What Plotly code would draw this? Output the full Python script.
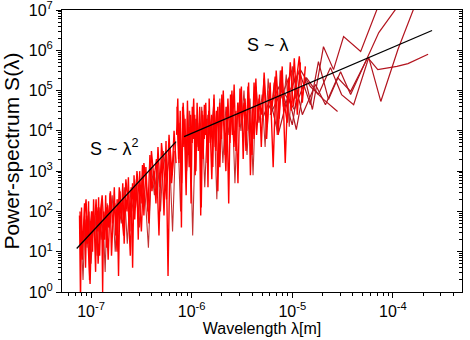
import plotly.graph_objects as go

# ---- data (log10 values) ----
# scan 1 (short wavelengths), bright red
s1_logx = [-7.115, -7.105, -7.095, -7.085, -7.075, -7.065, -7.055, -7.045, -7.035, -7.025,
           -7.015, -7.005, -6.995, -6.985, -6.975, -6.965, -6.955, -6.945, -6.935, -6.925,
           -6.915, -6.905, -6.895, -6.885, -6.875, -6.865, -6.855, -6.845, -6.835, -6.825,
           -6.811, -6.797, -6.783, -6.769, -6.755, -6.741, -6.727, -6.713, -6.699, -6.685,
           -6.671, -6.657, -6.643, -6.629, -6.615, -6.601, -6.587, -6.573, -6.559, -6.545,
           -6.531, -6.517, -6.503, -6.489, -6.475,
           -6.455, -6.435, -6.415, -6.395, -6.375, -6.355, -6.335, -6.315, -6.295, -6.275,
           -6.255, -6.235, -6.215, -6.195, -6.175, -6.155]
s1_logy = [1.9, -0.2, 2.1, 0.8, 1.6, 2.2, 0.6, 1.9, 1.2, 2.25,
           0.3, 1.7, 2.0, 1.0, 2.3, 1.4, 0.5, 2.1, 1.5, 2.35,
           0.9, 1.8, 2.2, 0.0, 2.0, 1.3, 2.4, 1.1, 2.15, 1.6,
           2.45, 0.9, 2.0, 2.6, 1.4, 2.3, 0.4, 2.5, 1.8, 2.7,
           1.2, 2.4, 2.0, 2.85, 1.5, 2.6, 0.6, 2.9, 2.1, 2.7,
           1.3, 3.0, 2.2, 3.15, 1.9,
           3.1, 2.0, 3.4, 2.5, 3.0, 2.2, 3.6, 2.6, 3.3, 1.9,
           3.75, 0.4, 3.6, 2.9, 4.0, 3.2]

# scan 1, second bright record
s5_logx = [-7.110, -7.090, -7.070, -7.050, -7.030, -7.010, -6.990, -6.970, -6.950, -6.930,
           -6.910, -6.890, -6.870, -6.850, -6.830, -6.808, -6.786, -6.764, -6.742, -6.720,
           -6.698, -6.676, -6.654, -6.632, -6.610, -6.588, -6.566, -6.544, -6.522, -6.500,
           -6.475, -6.450, -6.425, -6.400, -6.375, -6.350, -6.325, -6.300, -6.275, -6.250,
           -6.225, -6.200, -6.175]
s5_logy = [2.0, 0.9, 1.7, 2.3, 1.2, 0.2, 2.0, 1.5, 2.3, 0.7,
           1.9, 2.4, 1.5, 2.1, 0.8, 2.5, 1.7, 2.2, 1.0, 2.6,
           2.0, 1.4, 2.8, 2.2, 0.9, 2.7, 1.8, 3.0, 2.4, 1.5,
           3.2, 2.6, 1.7, 3.5, 2.8, 3.3, 1.4, 3.7, 3.0, 2.3,
           3.9, 2.7, 3.5]

# scan 1, darker companion
s2_logx = [-7.10, -7.08, -7.06, -7.04, -7.02, -7.00, -6.98, -6.96, -6.94, -6.92,
           -6.90, -6.88, -6.86, -6.84, -6.82, -6.79, -6.76, -6.73, -6.70, -6.67,
           -6.64, -6.61, -6.58, -6.55, -6.52, -6.49, -6.46, -6.43, -6.40, -6.37,
           -6.34, -6.31, -6.28, -6.25, -6.22, -6.19, -6.16]
s2_logy = [1.5, 0.3, 1.8, 1.1, 2.0, 0.7, 1.6, 1.9, 0.9, 2.1,
           1.3, 1.8, 0.5, 2.2, 1.6, 2.4, 1.0, 2.3, 1.7, 2.6,
           1.2, 2.5, 2.0, 2.8, 1.6, 2.9, 2.3, 1.1, 3.1, 2.4,
           3.3, 2.0, 3.5, 2.8, 3.4, 1.5, 3.7]

# scan 2 (longer wavelengths), bright red
s3_logx = [-6.150, -6.138, -6.126, -6.114, -6.102, -6.090, -6.078, -6.066, -6.054, -6.042,
           -6.030, -6.018, -6.006, -5.994, -5.982, -5.970, -5.958, -5.946, -5.934, -5.922,
           -5.910, -5.898, -5.886, -5.874, -5.862, -5.850, -5.838, -5.826, -5.814, -5.802,
           -5.790, -5.778, -5.766, -5.754,
           -5.740, -5.722, -5.704, -5.686, -5.668, -5.650, -5.632, -5.614, -5.596, -5.578,
           -5.560, -5.542, -5.524, -5.506, -5.488, -5.470, -5.452, -5.434, -5.416, -5.398,
           -5.380, -5.362, -5.344, -5.326, -5.308,
           -5.280, -5.250, -5.220, -5.190, -5.160, -5.130, -5.100, -5.070, -5.040, -5.010,
           -4.980, -4.950, -4.920]
s3_logy = [3.9, 4.8, 3.2, 4.5, 1.6, 4.6, 3.6, 4.3, 2.8, 4.75,
           3.4, 4.1, 2.2, 4.6, 3.8, 4.4, 3.0, 4.7, 3.5, 4.2,
           1.9, 4.5, 3.3, 4.65, 3.9, 4.3, 2.6, 4.8, 3.7, 4.4,
           3.1, 4.9, 3.6, 4.5,
           2.5, 4.7, 3.8, 5.0, 3.4, 4.6, 2.2, 4.9, 3.9, 5.15,
           3.5, 4.7, 4.1, 5.1, 3.3, 4.8, 4.0, 5.2, 2.9, 4.6,
           3.8, 5.3, 4.2, 4.9, 3.6,
           5.45, 4.1, 5.2, 3.1, 5.5, 4.3, 5.6, 3.2, 5.3, 4.5,
           5.8, 4.4, 5.7]

# scan 2, second bright record
s6_logx = [-6.145, -6.130, -6.115, -6.100, -6.085, -6.070, -6.055, -6.040, -6.025, -6.010,
           -5.995, -5.980, -5.965, -5.950, -5.935, -5.920, -5.905, -5.890, -5.875, -5.860,
           -5.845, -5.830, -5.815, -5.800, -5.780, -5.760, -5.740, -5.720, -5.700, -5.680,
           -5.660, -5.640, -5.620, -5.600, -5.580, -5.560, -5.540, -5.520, -5.500, -5.480,
           -5.460, -5.440, -5.420, -5.400, -5.380, -5.355, -5.330, -5.305, -5.280, -5.255,
           -5.230, -5.200, -5.170, -5.140, -5.110, -5.080, -5.050, -5.020, -4.990, -4.960,
           -4.930, -4.900, -4.870]
s6_logy = [4.6, 3.3, 4.2, 2.7, 4.7, 3.9, 2.4, 4.5, 3.1, 4.4,
           3.7, 4.8, 2.9, 4.3, 3.6, 4.6, 2.1, 4.4, 3.8, 4.7,
           3.2, 4.5, 4.0, 2.8, 4.8, 3.5, 4.6, 3.1, 4.9, 4.1,
           3.0, 4.8, 3.7, 5.0, 3.6, 4.5, 2.7, 5.05, 4.2, 4.7,
           3.5, 5.1, 4.3, 3.4, 5.2, 3.9, 4.8, 4.4, 5.3, 3.8,
           5.0, 4.6, 5.35, 3.9, 5.5, 4.7, 4.2, 5.7, 4.6, 5.2,
           5.85, 4.7, 5.6]

# scan 2, darker companion
s4_logx = [-6.14, -6.11, -6.08, -6.05, -6.02, -5.99, -5.96, -5.93, -5.90, -5.87,
           -5.84, -5.81, -5.78, -5.75, -5.72, -5.69, -5.66, -5.63, -5.60, -5.57,
           -5.54, -5.51, -5.48, -5.45, -5.42, -5.39, -5.36, -5.33, -5.30, -5.27,
           -5.24, -5.21, -5.18, -5.15, -5.12, -5.09, -5.06, -5.03, -5.00, -4.97, -4.94]
s4_logy = [4.2, 2.0, 4.4, 3.0, 4.5, 1.4, 4.3, 3.5, 4.6, 2.6,
           4.4, 3.8, 4.7, 2.3, 4.8, 3.2, 4.6, 3.9, 4.9, 2.7,
           4.7, 4.0, 5.0, 3.4, 4.8, 2.9, 5.1, 4.2, 4.9, 3.6,
           5.3, 4.4, 5.2, 3.9, 5.5, 4.6, 5.4, 4.1, 5.6, 4.8, 5.5]

# long scans (sparse, dark red)
d1_logx = [-5.30, -5.22, -5.14, -5.04, -4.96, -4.87, -4.80, -4.69, -4.59, -4.49, -4.32, -4.10]
d1_logy = [4.28, 4.78, 3.91, 4.90, 4.03, 5.27, 4.53, 6.09, 5.52, 6.34, 5.97, 7.39]
d2_logx = [-5.24, -5.12, -5.00, -4.92, -4.82, -4.74, -4.64, -4.52, -4.42, -4.25, -4.14, -3.83]
d2_logy = [4.53, 5.15, 4.15, 5.40, 4.65, 5.72, 4.78, 5.47, 4.90, 5.82, 6.44, 7.51]
d3_logx = [-5.22, -5.10, -4.98, -4.86, -4.74, -4.62, -4.51, -4.39, -4.24, -4.12, -3.95, -3.68]
d3_logy = [4.40, 5.02, 4.53, 5.32, 4.90, 5.57, 4.90, 4.65, 5.82, 4.73, 6.02, 7.76]
d4_logx = [-5.12, -5.00, -4.90, -4.77, -4.67, -4.55, -4.42, -4.25, -4.15, -3.96, -3.85, -3.65]
d4_logy = [4.78, 5.52, 4.40, 5.15, 4.65, 5.32, 4.98, 5.82, 5.52, 5.60, 5.67, 5.90]
d5_logx = [-5.02, -4.92, -4.82, -4.69, -4.55]
d5_logy = [5.02, 5.52, 5.10, 4.78, 4.48]

# fitted power laws
fit1_x = [7.2e-8, 7.0e-7]
fit1_y = [12, 5400]
fit2_x = [8.4e-7, 2.45e-4]
fit2_y = [7200, 3.1e6]

x_tickvals = [1e-7, 1e-6, 1e-5, 1e-4]
x_ticktext = ["10<sup>-7</sup>", "10<sup>-6</sup>", "10<sup>-5</sup>", "10<sup>-4</sup>"]
y_tickvals = [1, 10, 100, 1e3, 1e4, 1e5, 1e6, 1e7]
y_ticktext = ["10<sup>0</sup>", "10<sup>1</sup>", "10<sup>2</sup>", "10<sup>3</sup>",
              "10<sup>4</sup>", "10<sup>5</sup>", "10<sup>6</sup>", "10<sup>7</sup>"]

FONT = "Arial, Liberation Sans, sans-serif"
BRIGHT = "#ff0000"
MID = "#c43030"
DARK = "#b3141e"


def p10(v):
    return [10 ** a for a in v]


def minor_vals(lo, hi):
    return [m * 10.0 ** e for e in range(lo, hi) for m in range(2, 10)]


fig = go.Figure()


def add(lx, ly, color, width=1.0):
    fig.add_trace(go.Scatter(x=p10(lx), y=p10(ly), mode="lines",
                             line=dict(color=color, width=width),
                             showlegend=False, hoverinfo="skip"))


for lx, ly in [(d1_logx, d1_logy), (d2_logx, d2_logy), (d3_logx, d3_logy),
               (d4_logx, d4_logy), (d5_logx, d5_logy)]:
    add(lx, ly, DARK, 1.2)
add(s2_logx, s2_logy, MID, 1.1)
add(s4_logx, s4_logy, MID, 1.1)
add(s5_logx, s5_logy, BRIGHT, 1.4)
add(s6_logx, s6_logy, BRIGHT, 1.4)
add(s1_logx, s1_logy, BRIGHT, 1.4)
add(s3_logx, s3_logy, BRIGHT, 1.4)

fig.add_trace(go.Scatter(x=fit1_x, y=fit1_y, mode="lines",
                         line=dict(color="black", width=1.3), showlegend=False))
fig.add_trace(go.Scatter(x=fit2_x, y=fit2_y, mode="lines",
                         line=dict(color="black", width=1.3), showlegend=False))
# helper trace for the right-hand axis
fig.add_trace(go.Scatter(x=[1e-6], y=[1e3], yaxis="y2", mode="markers",
                         marker=dict(opacity=0), showlegend=False, hoverinfo="skip"))

fig.add_annotation(x=-6.77, y=3.58, xref="x", yref="y", text="S ~ λ<sup>2</sup>",
                   showarrow=False, font=dict(family=FONT, size=18, color="black"))
fig.add_annotation(x=-5.24, y=6.12, xref="x", yref="y", text="S ~ λ",
                   showarrow=False, font=dict(family=FONT, size=18, color="black"))

fig.update_layout(
    width=470, height=340,
    margin=dict(l=62, r=8, t=10, b=48, autoexpand=False),
    paper_bgcolor="white", plot_bgcolor="white",
    font=dict(family=FONT, size=15, color="black"),
    xaxis=dict(type="log", range=[-7.289, -3.313], tickvals=x_tickvals, ticktext=x_ticktext,
               showgrid=False, zeroline=False, automargin=False, ticklabeloverflow="allow",
               ticks="outside", ticklen=5, tickcolor="black", tickwidth=1,
               minor=dict(tickvals=minor_vals(-8, -3), ticks="outside", ticklen=3,
                          tickcolor="black", showgrid=False),
               showline=True, linecolor="black", linewidth=1, mirror=True,
               title=dict(text="Wavelength λ[m]", font=dict(size=16), standoff=1),
               tickfont=dict(size=16)),
    yaxis=dict(type="log", range=[0, 7], tickvals=y_tickvals, ticktext=y_ticktext,
               showgrid=False, zeroline=False, automargin=False, ticklabeloverflow="allow",
               ticks="outside", ticklen=5, tickcolor="black", tickwidth=1,
               minor=dict(tickvals=minor_vals(0, 7), ticks="outside", ticklen=3,
                          tickcolor="black", showgrid=False),
               showline=True, linecolor="black", linewidth=1, mirror=True,
               title=dict(text="Power-spectrum S(λ)", font=dict(size=21), standoff=3),
               tickfont=dict(size=16)),
    yaxis2=dict(type="log", range=[0, 7], overlaying="y", side="right",
                tickvals=y_tickvals, showticklabels=False, showgrid=False,
                zeroline=False, ticks="inside", ticklen=5, tickcolor="black",
                minor=dict(tickvals=minor_vals(0, 7), ticks="inside", ticklen=3,
                           tickcolor="black", showgrid=False),
                showline=False),
)

fig.write_html("out.html", config={"displayModeBar": False},
               post_script="document.body.style.margin='0px';")
